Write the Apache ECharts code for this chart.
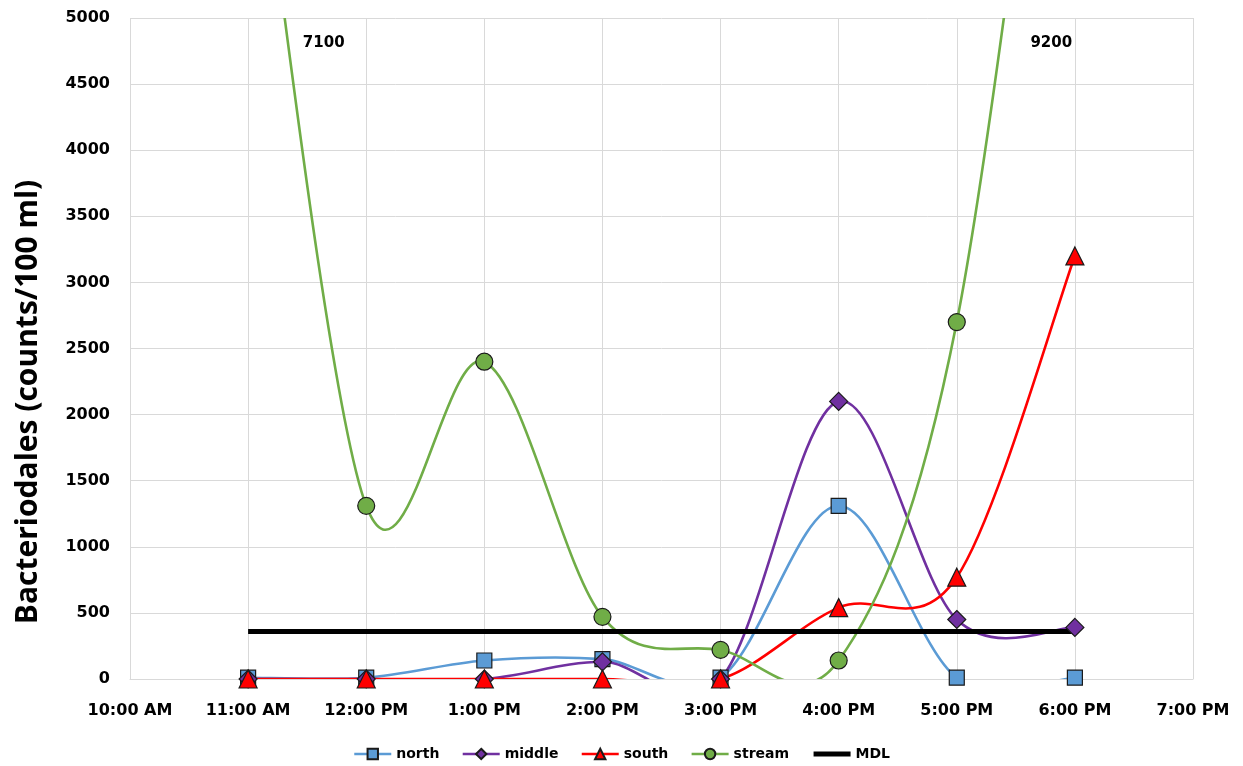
<!DOCTYPE html>
<html>
<head>
<meta charset="utf-8">
<script src="https://cdn.jsdelivr.net/npm/echarts@6/dist/echarts.min.js"></script>
<style>
  html, body { margin: 0; padding: 0; background: #fff; }
  #chart { width: 1243px; height: 766px; }
</style>
</head>
<body>
<div id="chart"></div>
<script>
// Sampling times, in hours of the day (11 = 11:00 AM ... 18 = 6:00 PM)
const hours = [11, 12, 13, 14, 15, 16, 17, 18];
const north  = [10, 10, 140, 150, 10, 1310, 10, 10];
const middle = [0, 0, 0, 130, 0, 2100, 450, 390];
const south  = [0, 0, 0, 0, 0, 540, 770, 3200];
const stream = [7100, 1310, 2400, 470, 220, 140, 2700, 9200];
const mdl = 360;
const yTicks = { min: 0, max: 5000, interval: 500 };
const xTicks = { min: 10, max: 19, interval: 1 };
const yTitle = 'Bacteriodales (counts/100 ml)';

// Off-scale stream values are called out as text near the top of the plot
const offScale = [
  { at: 11, labelHour: 11.64, labelY: 4810 },
  { at: 18, labelHour: 17.80, labelY: 4810 }
];

function hourLabel(h) {
  const hr = Math.round(h);
  const suffix = hr >= 12 ? 'PM' : 'AM';
  let h12 = hr % 12;
  if (h12 === 0) h12 = 12;
  return h12 + ':00 ' + suffix;
}

const pairs = (ys) => hours.map((h, i) => [h, ys[i]]);
const FONT = 'DejaVu Sans';
const edge = '#1a1a1a';
const LINE_W = 2.6;

// Cardinal (Catmull-Rom) smoothing: each segment i -> i+1 is a cubic Bezier
// whose tangents come from the neighbouring points, so curves may overshoot.
function smoothSegment(values, color) {
  return function (params, api) {
    const i = params.dataIndex;
    const n = values.length;
    if (i >= n - 1) return null;
    const pt = (k) => {
      const j = Math.max(0, Math.min(n - 1, k));
      return api.coord([hours[j], values[j]]);
    };
    const p0 = pt(i - 1), p1 = pt(i), p2 = pt(i + 1), p3 = pt(i + 2);
    const cs = params.coordSys;
    return {
      type: 'bezierCurve',
      clipPath: { type: 'rect', shape: { x: cs.x, y: cs.y, width: cs.width, height: cs.height } },
      shape: {
        x1: p1[0], y1: p1[1],
        cpx1: p1[0] + (p2[0] - p0[0]) / 6, cpy1: p1[1] + (p2[1] - p0[1]) / 6,
        cpx2: p2[0] - (p3[0] - p1[0]) / 6, cpy2: p2[1] - (p3[1] - p1[1]) / 6,
        x2: p2[0], y2: p2[1]
      },
      style: { stroke: color, lineWidth: LINE_W, fill: null, lineCap: 'round' }
    };
  };
}

// One smooth curve plus one marker-only series for each sampling site
const sites = [
  { name: 'north',  values: north,  color: '#5B9BD5', symbol: 'rect',     size: 15 },
  { name: 'middle', values: middle, color: '#7030A0', symbol: 'diamond',  size: 18 },
  { name: 'south',  values: south,  color: '#FF0000', symbol: 'triangle', size: 18 },
  { name: 'stream', values: stream, color: '#70AD47', symbol: 'circle',   size: 17 }
];

const series = [];
sites.forEach((s) => {
  series.push({
    name: s.name + ' curve', type: 'custom', clip: true,
    renderItem: smoothSegment(s.values, s.color),
    data: pairs(s.values), silent: true
  });
  const markerSeries = {
    name: s.name, type: 'line', data: pairs(s.values),
    symbol: s.symbol, symbolSize: s.size, showAllSymbol: true,
    lineStyle: { color: s.color, width: 0, opacity: 0 },
    itemStyle: { color: s.color, borderColor: edge, borderWidth: 1.2 }
  };
  if (s.name === 'stream') {
    markerSeries.markPoint = {
      symbol: 'circle', symbolSize: 0,
      label: {
        show: true, position: 'inside', color: '#000', fontSize: 15,
        fontWeight: 'bold', fontFamily: FONT,
        formatter: (p) => String(p.value)
      },
      data: offScale.map(o => ({
        coord: [o.labelHour, o.labelY],
        value: stream[hours.indexOf(o.at)]
      }))
    };
  }
  series.push(markerSeries);
});
series.push({
  name: 'MDL', type: 'line', data: [[hours[0], mdl], [hours[hours.length - 1], mdl]],
  symbol: 'none', showSymbol: false,
  lineStyle: { color: '#000', width: 5 },
  itemStyle: { color: '#000' }
});

const legendData = sites.map(s => ({
  name: s.name,
  lineStyle: { color: s.color, width: LINE_W, opacity: 1 }
}));
legendData.push({ name: 'MDL', itemStyle: { opacity: 0 }, lineStyle: { color: '#000', width: 5, opacity: 1 } });

const chart = echarts.init(document.getElementById('chart'));
chart.setOption({
  animation: false,
  textStyle: { fontFamily: FONT },
  grid: { left: 130, right: 50, top: 18, bottom: 87, containLabel: false },
  graphic: [{
    type: 'text',
    x: 28, y: 402,
    rotation: Math.PI / 2,
    style: {
      text: yTitle,
      font: 'bold 30px "Open Sans"',
      fill: '#000',
      textAlign: 'center',
      textVerticalAlign: 'middle'
    }
  }],
  xAxis: {
    type: 'value',
    min: xTicks.min, max: xTicks.max, interval: xTicks.interval,
    axisLine: { show: true, onZero: false, lineStyle: { color: '#d9d9d9', width: 1 } },
    axisTick: { show: false },
    splitLine: { show: true, lineStyle: { color: '#d9d9d9', width: 1 } },
    axisLabel: {
      formatter: hourLabel, color: '#000', fontSize: 16, fontWeight: 'bold',
      fontFamily: FONT, margin: 24
    }
  },
  yAxis: {
    type: 'value',
    min: yTicks.min, max: yTicks.max, interval: yTicks.interval,
    axisLine: { show: false },
    axisTick: { show: false },
    splitLine: { show: true, lineStyle: { color: '#d9d9d9', width: 1 } },
    axisLabel: {
      formatter: (v) => String(v),
      color: '#000', fontSize: 16, fontWeight: 'bold', fontFamily: FONT, margin: 20
    }
  },
  legend: {
    bottom: 0, left: 'center',
    itemWidth: 37, itemHeight: 13, itemGap: 22,
    textStyle: { fontSize: 14, fontWeight: 'bold', color: '#000', fontFamily: FONT },
    data: legendData
  },
  series: series
});
</script>
</body>
</html>
